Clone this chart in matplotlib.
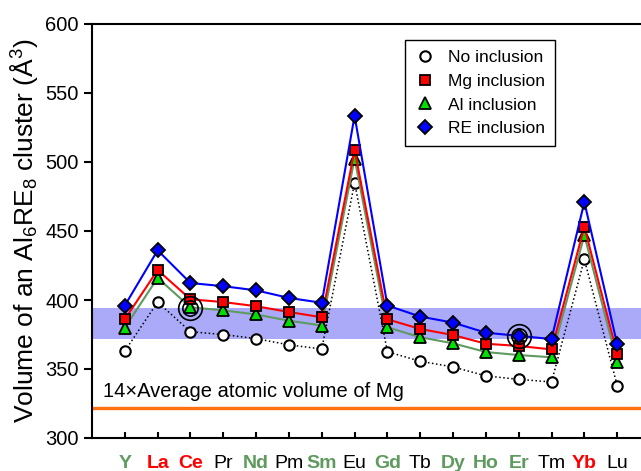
import numpy as np
import matplotlib.pyplot as plt

plt.rcParams['font.family'] = ['Liberation Sans', 'DejaVu Sans']
plt.rcParams['mathtext.default'] = 'regular'

elements = ['Y', 'La', 'Ce', 'Pr', 'Nd', 'Pm', 'Sm', 'Eu', 'Gd', 'Tb', 'Dy', 'Ho', 'Er', 'Tm', 'Yb', 'Lu']
label_colors = ['green', 'red', 'red', 'black', 'green', 'black', 'green', 'black',
                'green', 'black', 'green', 'green', 'green', 'black', 'red', 'black']

no_incl = [363, 398.5, 377, 375, 372, 367.5, 364.5, 485, 362.5, 355.6, 351.5, 345, 342.5, 340.6, 429.5, 338]
mg_incl = [386, 421.7, 400.5, 398.5, 395.5, 391.3, 387.5, 508.7, 386, 379, 374.6, 368.3, 366.7, 364.2, 453, 361]
al_incl = [380, 416, 394.7, 392.5, 389.5, 385, 381.5, 502.5, 380.2, 373, 368.6, 362.3, 360.1, 358.5, 447, 355]
re_incl = [396, 436, 412.3, 410, 407, 401.5, 398, 533.5, 396, 388, 383.6, 376.3, 374, 371.7, 471, 368]

band = (372, 394)
mg_ref = 322
targets = [(2, 394), (12, 374)]

x = np.arange(len(elements))

fig = plt.figure(figsize=(6.41, 4.71), dpi=100)
ax = fig.add_axes([92/641, 33/471, 558/641, 414/471])

ax.axhspan(band[0], band[1], color='#aaaaf8', lw=0, zorder=0)
ax.axhline(mg_ref, color='#ff7010', lw=2.4, zorder=1)
ax.text(-0.68, mg_ref + 5, '14\u00d7Average atomic volume of Mg', fontsize=14.5, va='bottom', ha='left')

ax.plot(x, no_incl, ':', color='black', lw=1.1, marker='o', ms=7.5, mfc='white', mec='black', mew=1.5,
        label='No inclusion', zorder=3)
ax.plot(x, al_incl, '-', color='#5f9a5f', lw=1.5, marker='^', ms=8, mfc='#00e000', mec='black', mew=1.3,
        label='Al inclusion', zorder=4)
ax.plot(x, mg_incl, '-', color='red', lw=1.5, marker='s', ms=7, mfc='red', mec='black', mew=1.3,
        label='Mg inclusion', zorder=5)
ax.plot(x, re_incl, '-', color='blue', lw=1.5, marker='D', ms=7.5, mfc='blue', mec='black', mew=1.3,
        label='RE inclusion', zorder=6)

for tx, ty in targets:
    ax.plot(tx, ty, 'o', ms=17, mfc='none', mec='black', mew=1.2, zorder=7)
    ax.plot(tx, ty, 'o', ms=11, mfc='none', mec='black', mew=1.2, zorder=7)

handles, labels = ax.get_legend_handles_labels()
order = [0, 2, 1, 3]
leg = ax.legend([handles[i] for i in order], [labels[i] for i in order],
                loc='upper left', bbox_to_anchor=(0.561, 0.961), borderaxespad=0, fontsize=12.5,
                fancybox=False, edgecolor='black', framealpha=1, handlelength=1.2,
                borderpad=0.55, labelspacing=0.5, handletextpad=0.75)
for h in leg.legend_handles:
    h.set_linestyle('none')
leg.get_frame().set_linewidth(1.0)

ax.set_xlim(-1, 16)
ax.set_ylim(300, 600)
ax.set_yticks(np.arange(300, 601, 50))
ax.set_xticks(x)
ax.set_xticklabels(elements)
color_map = {'green': '#5f9a5f', 'red': '#ff0000', 'black': 'black'}
for lab, c in zip(ax.get_xticklabels(), label_colors):
    lab.set_color(color_map[c])
    if c != 'black':
        lab.set_fontweight('bold')
ax.tick_params(axis='x', direction='in', length=4, width=1.5, labelsize=14, pad=12)
ax.tick_params(axis='y', direction='out', length=6, width=1.5, labelsize=14.5)
for s in ax.spines.values():
    s.set_linewidth(1.5)
ax.set_ylabel('Volume of an Al$_6$RE$_8$ cluster (\u00c5$^3$)', fontsize=19, labelpad=4)

fig.savefig('out.png', dpi=100)
